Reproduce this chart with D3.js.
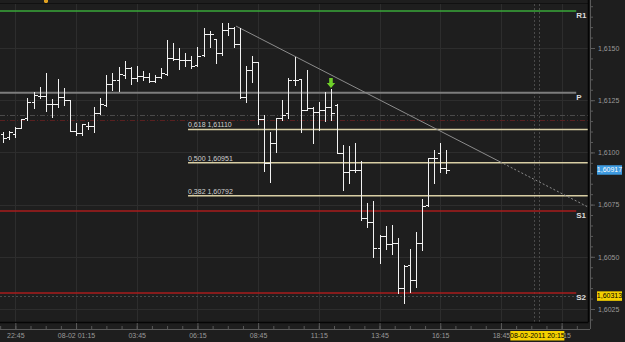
<!DOCTYPE html>
<html>
<head>
<meta charset="utf-8">
<script src="https://cdn.jsdelivr.net/npm/d3@7"></script>
<style>
  html, body { margin: 0; padding: 0; background: #1e1e1e; }
  svg { display: block; }
  text { font-family: "Liberation Sans", Arial, sans-serif; }
</style>
</head>
<body>
<div id="chart"></div>
<script>
// --- M15 bars, 07-02 22:15 .. 08-02 16:30 ---
const opens = [1.61088,1.61074,1.61088,1.61117,1.61165,1.61241,1.61270,1.61270,1.61232,1.61232,1.61265,1.61251,1.61102,1.61093,1.61126,1.61126,1.61189,1.61227,1.61328,1.61347,1.61371,1.61404,1.61356,1.61366,1.61361,1.61342,1.61361,1.61376,1.61452,1.61447,1.61443,1.61443,1.61419,1.61467,1.61567,1.61543,1.61476,1.61586,1.61596,1.61519,1.61265,1.61395,1.61433,1.61160,1.60949,1.61045,1.61165,1.61189,1.61347,1.61352,1.61203,1.61213,1.61194,1.61203,1.61218,1.61227,1.60997,1.60906,1.60916,1.60916,1.60686,1.60667,1.60542,1.60600,1.60561,1.60566,1.60350,1.60461,1.60389,1.60566,1.60748,1.60973,1.60997,1.60925];
const highs = [1.61098,1.61102,1.61122,1.61160,1.61261,1.61289,1.61313,1.61380,1.61256,1.61352,1.61309,1.61251,1.61141,1.61136,1.61146,1.61218,1.61261,1.61371,1.61380,1.61409,1.61438,1.61409,1.61414,1.61390,1.61380,1.61371,1.61404,1.61538,1.61524,1.61500,1.61476,1.61462,1.61505,1.61596,1.61581,1.61543,1.61620,1.61620,1.61601,1.61596,1.61414,1.61462,1.61433,1.61179,1.61098,1.61165,1.61251,1.61356,1.61457,1.61352,1.61395,1.61218,1.61241,1.61289,1.61304,1.61232,1.61035,1.61031,1.61045,1.60959,1.60758,1.60767,1.60604,1.60647,1.60652,1.60590,1.60461,1.60537,1.60619,1.60777,1.60973,1.61012,1.61045,1.61012];
const lows = [1.61050,1.61064,1.61074,1.61117,1.61155,1.61213,1.61261,1.61198,1.61170,1.61218,1.61227,1.61102,1.61083,1.61083,1.61112,1.61098,1.61184,1.61222,1.61299,1.61294,1.61356,1.61328,1.61342,1.61347,1.61337,1.61337,1.61356,1.61371,1.61443,1.61400,1.61414,1.61404,1.61414,1.61462,1.61505,1.61428,1.61467,1.61562,1.61505,1.61261,1.61241,1.61337,1.61136,1.60911,1.60858,1.61002,1.61155,1.61165,1.61323,1.61098,1.61203,1.61045,1.61107,1.61150,1.61155,1.60997,1.60820,1.60853,1.60906,1.60676,1.60643,1.60499,1.60470,1.60537,1.60513,1.60327,1.60279,1.60331,1.60355,1.60533,1.60743,1.60853,1.60906,1.60901];
const closes = [1.61069,1.61098,1.61117,1.61160,1.61241,1.61275,1.61270,1.61232,1.61232,1.61265,1.61251,1.61102,1.61093,1.61136,1.61126,1.61189,1.61232,1.61328,1.61347,1.61376,1.61404,1.61356,1.61366,1.61361,1.61342,1.61361,1.61380,1.61452,1.61447,1.61443,1.61443,1.61414,1.61462,1.61567,1.61567,1.61476,1.61586,1.61596,1.61519,1.61265,1.61395,1.61433,1.61160,1.60949,1.61045,1.61165,1.61179,1.61347,1.61347,1.61203,1.61213,1.61194,1.61203,1.61218,1.61189,1.60997,1.60906,1.60916,1.60916,1.60686,1.60667,1.60542,1.60600,1.60561,1.60566,1.60350,1.60456,1.60389,1.60566,1.60743,1.60973,1.60973,1.60925,1.60917];

// time axis (bar index of each label)
const timeTickIdx = [2, 12, 22, 32, 42, 52, 62, 72, 82, 92];
const timeTickLabels = ["22:45", "08-02 01:15", "03:45", "06:15", "08:45", "11:15", "13:45", "16:15", "18:45", "21:15"];

// price axis
const priceTicks = [1.6025, 1.6050, 1.6075, 1.6100, 1.6125, 1.6150];

// pivot levels
const pivotNames = ["R1", "P", "S1", "S2"];
const pivotPrices = [1.61677, 1.61286, 1.60719, 1.60327];
const pivotColors = ["#3aa83a", "#7d7d7d", "#a81c1c", "#a81c1c"];

// fibonacci retracement
const fibRatios = ["0,618", "0,500", "0,382"];
const fibPrices = [1.61110, 1.60951, 1.60792];
const fibStartIdx = 30.45;

// other horizontal markers
const markerPrices = [1.61179, 1.61155, 1.60313];
const markerColors = ["#4a4a4a", "#5a2020", "#4a4a4a"];
const markerDash = ["5,2,1,2", "5,2,1,2", "2,2"];

// trend line (two anchors) and extension
const trendIdx = [38.35, 81.85];
const trendPrices = [1.61605, 1.60955];

// sell signal arrow
const signalIdx = 54;
const signalPrice = 1.61309;

// labels on the price scale
const lastPrice = 1.60917;
const lowMark = 1.60313;
const crossIdx = 88;
const crossLabel = "08-02-2011 20:15";
const crossLines = [87.5, 88.3];

const W = 625, H = 342;
const plotRight = 588, plotBottom = 322;

const svg = d3.select("#chart").append("svg")
    .attr("width", W)
    .attr("height", H);

svg.append("rect").attr("width", W).attr("height", H).attr("fill", "#1e1e1e");

// --- scales ---
const x = d3.scaleLinear().domain([0, 73]).range([3.2, 3.2 + 73 * 6.07]);
const y = d3.scaleLinear().domain([1.6025, 1.6150]).range([309, 48]);
const fmt = p => d3.format(".4f")(p).replace(".", ",");
const fmt5 = p => d3.format(".5f")(p).replace(".", ",");
const idxEnd = x.invert(plotRight);

// --- grid ---
const grid = svg.append("g").attr("shape-rendering", "crispEdges");
grid.selectAll(".vg").data(timeTickIdx).join("line")
    .attr("x1", d => Math.round(x(d)) + 0.5).attr("x2", d => Math.round(x(d)) + 0.5)
    .attr("y1", 4).attr("y2", plotBottom)
    .attr("stroke", "#2d2d2d");
grid.selectAll(".hg").data(priceTicks).join("line")
    .attr("x1", 0).attr("x2", plotRight)
    .attr("y1", d => Math.round(y(d)) + 0.5).attr("y2", d => Math.round(y(d)) + 0.5)
    .attr("stroke", "#2d2d2d");

// crosshair dotted verticals
grid.selectAll(".cl").data(crossLines).join("line")
    .attr("x1", d => Math.round(x(d)) + 0.5).attr("x2", d => Math.round(x(d)) + 0.5)
    .attr("y1", 4).attr("y2", plotBottom)
    .attr("stroke", "#4a4a4a").attr("stroke-dasharray", "2,2");

// --- horizontal markers ---
svg.selectAll(".mk").data(markerPrices).join("line")
    .attr("x1", 0).attr("x2", plotRight)
    .attr("y1", d => Math.round(y(d)) + 0.5).attr("y2", d => Math.round(y(d)) + 0.5)
    .attr("stroke", (d, i) => markerColors[i])
    .attr("stroke-dasharray", (d, i) => markerDash[i]);

// --- pivots ---
const pivX2 = x(94.4);
svg.selectAll(".pv").data(pivotPrices).join("line")
    .attr("x1", 0).attr("x2", pivX2)
    .attr("y1", d => y(d)).attr("y2", d => y(d))
    .attr("stroke", (d, i) => pivotColors[i])
    .attr("stroke-width", (d, i) => pivotNames[i] === "P" ? 2 : 1.5);
svg.selectAll(".pvt").data(pivotPrices).join("text")
    .attr("x", pivX2).attr("y", d => y(d) + 7)
    .attr("fill", "#dcdcdc").attr("font-size", 8).attr("font-weight", "bold")
    .text((d, i) => pivotNames[i]);

// --- fibonacci ---
svg.selectAll(".fb").data(fibPrices).join("line")
    .attr("x1", x(fibStartIdx)).attr("x2", plotRight)
    .attr("y1", d => y(d)).attr("y2", d => y(d))
    .attr("stroke", "#d8cea4").attr("stroke-width", 1.5);
svg.selectAll(".fbt").data(fibPrices).join("text")
    .attr("x", x(fibStartIdx)).attr("y", d => y(d) - 2)
    .attr("fill", "#d0d0d0").attr("font-size", 7)
    .text((d, i) => fibRatios[i] + " " + fmt5(d));

// --- trend line ---
const trendSlope = (trendPrices[1] - trendPrices[0]) / (trendIdx[1] - trendIdx[0]);
svg.append("line")
    .attr("x1", x(trendIdx[0])).attr("y1", y(trendPrices[0]))
    .attr("x2", x(trendIdx[1])).attr("y2", y(trendPrices[1]))
    .attr("stroke", "#8c8c8c").attr("stroke-width", 1);
svg.append("line")
    .attr("x1", x(trendIdx[1])).attr("y1", y(trendPrices[1]))
    .attr("x2", x(idxEnd)).attr("y2", y(trendPrices[1] + trendSlope * (idxEnd - trendIdx[1])))
    .attr("stroke", "#8c8c8c").attr("stroke-width", 1).attr("stroke-dasharray", "2,2");

// --- OHLC bars ---
const barG = svg.append("g").attr("stroke", "#f2f2f2").attr("shape-rendering", "crispEdges");
opens.forEach((o, i) => {
  const cx = Math.round(x(i)) + 0.5;
  barG.append("line").attr("x1", cx).attr("x2", cx)
      .attr("y1", Math.round(y(highs[i]))).attr("y2", Math.round(y(lows[i])) + 1);
  barG.append("line").attr("x1", cx - 3).attr("x2", cx)
      .attr("y1", Math.round(y(o)) + 0.5).attr("y2", Math.round(y(o)) + 0.5);
  barG.append("line").attr("x1", cx).attr("x2", cx + 3)
      .attr("y1", Math.round(y(closes[i])) + 0.5).attr("y2", Math.round(y(closes[i])) + 0.5);
});

// --- sell arrow ---
const ax = x(signalIdx), ay = y(signalPrice);
svg.append("path")
    .attr("d", `M${ax - 1.8},${ay - 10} h3.6 v5 h2.4 L${ax},${ay} L${ax - 4.2},${ay - 5} h2.4 Z`)
    .attr("fill", "#6fcf2a");

// small marker at top
svg.append("path").attr("d", "M44,0 h4 v2 l-2,2 l-2,-2 Z").attr("fill", "#e0a020");

// --- frame ---
svg.append("line").attr("x1", 0).attr("x2", plotRight).attr("y1", 3.5).attr("y2", 3.5)
    .attr("stroke", "#111");
svg.append("line").attr("x1", 0).attr("x2", plotRight + 0.5).attr("y1", plotBottom + 0.5).attr("y2", plotBottom + 0.5)
    .attr("stroke", "#050505").attr("stroke-width", 1.5);
svg.append("line").attr("x1", plotRight + 0.5).attr("x2", plotRight + 0.5).attr("y1", 0).attr("y2", plotBottom)
    .attr("stroke", "#050505").attr("stroke-width", 1.5);

// --- x axis ---
const minorX = d3.range(-0.5, 96, 2.5);
const xAxisMinor = svg.append("g").attr("transform", "translate(0,329)")
    .call(d3.axisBottom(x).tickValues(minorX).tickSize(-3).tickFormat("").tickSizeOuter(0));
const xAxis = svg.append("g").attr("transform", "translate(0,329)")
    .call(d3.axisBottom(x).tickValues(timeTickIdx).tickSize(-6).tickPadding(4)
        .tickFormat((d, i) => timeTickLabels[i]).tickSizeOuter(0));
[xAxisMinor, xAxis].forEach(g => {
  g.select(".domain").attr("stroke", "#5a5a5a").attr("d", `M0,0.5H${plotRight + 2}`);
  g.selectAll(".tick line").attr("stroke", "#5a5a5a");
  g.selectAll("text").attr("fill", "#9a9a9a").attr("font-size", 7)
      .attr("font-family", "Liberation Sans, Arial, sans-serif");
});

// --- y axis ---
const minorY = d3.range(1.6020, 1.6175, 0.0005);
const yAxisMinor = svg.append("g").attr("transform", "translate(590,0)")
    .call(d3.axisRight(y).tickValues(minorY).tickSize(3).tickFormat("").tickSizeOuter(0));
const yAxis = svg.append("g").attr("transform", "translate(590,0)")
    .call(d3.axisRight(y).tickValues(priceTicks).tickSize(5).tickPadding(3).tickFormat(fmt).tickSizeOuter(0));
[yAxisMinor, yAxis].forEach(g => {
  g.select(".domain").attr("stroke", "#5a5a5a").attr("d", `M0.5,0V329`);
  g.selectAll(".tick line").attr("stroke", "#5a5a5a");
  g.selectAll("text").attr("fill", "#9a9a9a").attr("font-size", 7)
      .attr("font-family", "Liberation Sans, Arial, sans-serif");
});

// --- price tags ---
function priceTag(p, bg, fg) {
  const ty = y(p);
  svg.append("rect").attr("x", 597).attr("y", ty - 4.5).attr("width", 25).attr("height", 9.5).attr("fill", bg);
  svg.append("text").attr("x", 609.5).attr("y", ty + 2.5).attr("text-anchor", "middle")
      .attr("fill", fg).attr("font-size", 7).text(fmt5(p));
}
priceTag(lastPrice, "#3d9ae0", "#ffffff");
priceTag(lowMark, "#f5d000", "#000000");

// crosshair time tag
const cxp = x(crossIdx);
svg.append("rect").attr("x", cxp - 27).attr("y", 331).attr("width", 54).attr("height", 9.5).attr("fill", "#f5d000");
svg.append("text").attr("x", cxp).attr("y", 338.2).attr("text-anchor", "middle")
    .attr("fill", "#000").attr("font-size", 7).text(crossLabel);
</script>
</body>
</html>
